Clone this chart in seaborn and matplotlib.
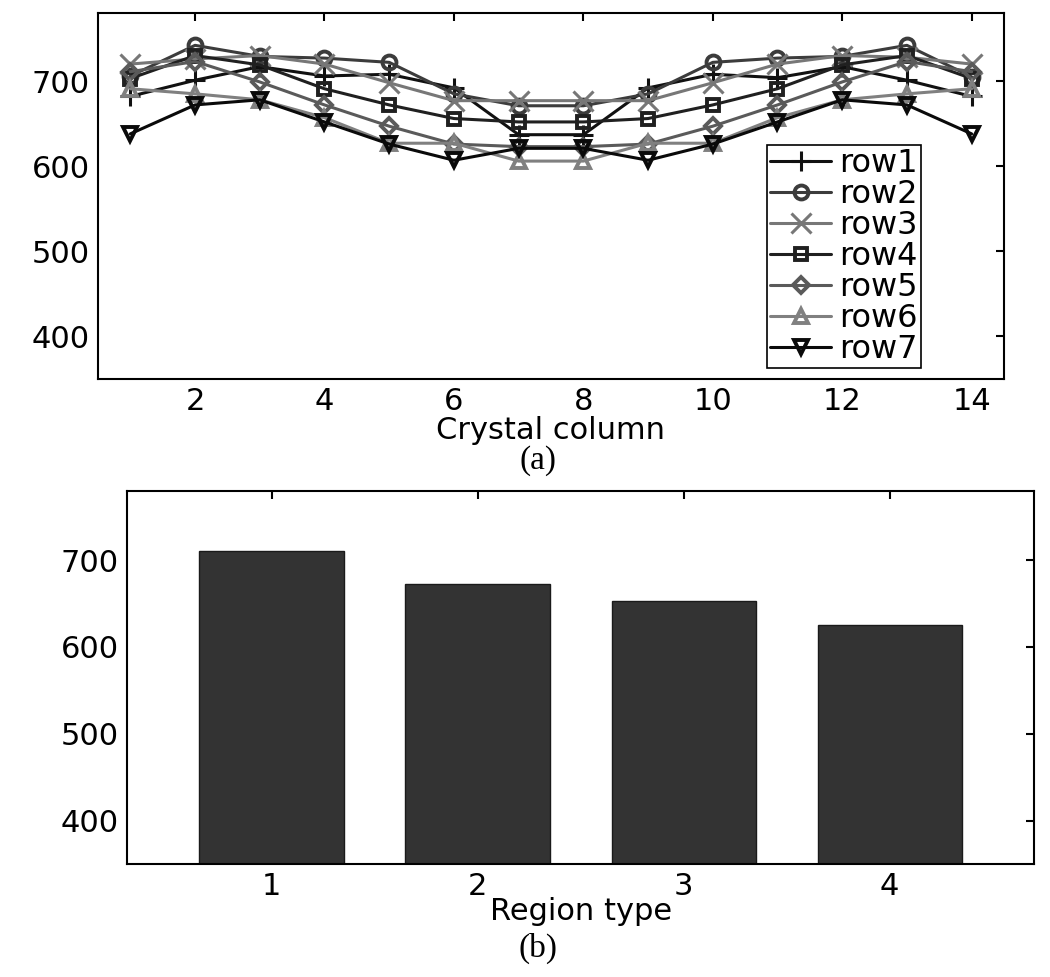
import pandas as pd
import matplotlib
matplotlib.use("Agg")
import matplotlib.pyplot as plt
import seaborn as sns

# (a) values per crystal column, one list per row
columns = list(range(1, 15))
row1 = [682, 701, 717, 706, 708, 692, 637, 637, 692, 708, 704, 717, 701, 682]
row2 = [706, 742, 729, 727, 722, 685, 671, 671, 685, 722, 727, 729, 742, 705]
row3 = [720, 726, 730, 720, 698, 677, 677, 677, 677, 698, 720, 730, 728, 720]
row4 = [703, 730, 719, 691, 672, 656, 652, 652, 656, 672, 691, 719, 730, 703]
row5 = [711, 723, 699, 672, 647, 626, 623, 623, 626, 647, 672, 699, 723, 711]
row6 = [691, 685, 678, 657, 627, 627, 606, 606, 627, 627, 657, 678, 685, 691]
row7 = [638, 672, 678, 652, 626, 607, 621, 621, 607, 626, 652, 678, 672, 638]
row_names = ["row1", "row2", "row3", "row4", "row5", "row6", "row7"]

# (b) mean per region type
regions = ["1", "2", "3", "4"]
region_vals = [711, 673, 653, 625]

rows = [row1, row2, row3, row4, row5, row6, row7]
df = pd.DataFrame({
    "col": columns * len(rows),
    "val": sum(rows, []),
    "row": [n for n in row_names for _ in columns],
})
df_bar = pd.DataFrame({"region": regions, "val": region_vals})

sns.set_style("white")
plt.rcParams["font.family"] = ["DejaVu Sans"]
plt.rcParams["text.color"] = "black"
plt.rcParams["axes.labelcolor"] = "black"
plt.rcParams["axes.linewidth"] = 1.5

colors = ["#111111", "#3c3c3c", "#777777", "#202020", "#5a5a5a", "#808080", "#0a0a0a"]
markers = ["+", "o", "x", "s", "D", "^", "v"]
msizes = [14, 10, 14, 9, 8, 10, 10]

fig = plt.figure(figsize=(10.5, 9.77), dpi=100)
ax1 = fig.add_axes([0.0933, 0.6121, 0.8629, 0.3746])
ax2 = fig.add_axes([0.1212, 0.1157, 0.8635, 0.3821])

for name, c, m, ms in zip(row_names, colors, markers, msizes):
    filled = m not in ("+", "x")
    sns.lineplot(data=df[df["row"] == name], x="col", y="val", ax=ax1,
                 color=c, linewidth=2.2, marker=m, markersize=ms,
                 markeredgewidth=2.8 if filled else 2.2,
                 markeredgecolor=c, markerfacecolor="none" if filled else c,
                 label=name)

ax1.set_xlim(0.5, 14.5)
ax1.set_ylim(350, 780)
ax1.set_xticks(range(2, 15, 2))
ax1.set_yticks([400, 500, 600, 700])
ax1.set_xlabel("Crystal column", fontsize=22, labelpad=0)
ax1.set_ylabel("")
leg = ax1.legend(loc="lower right", bbox_to_anchor=(0.908, 0.03), borderaxespad=0,
                 fontsize=23, frameon=True, fancybox=False, framealpha=1,
                 edgecolor="black", handlelength=1.9, handletextpad=0.25,
                 labelspacing=0.0, borderpad=0.1)
leg.get_frame().set_linewidth(1.2)

sns.barplot(data=df_bar, x="region", y="val", ax=ax2, color="#333333",
            width=0.7, edgecolor="#1a1a1a", linewidth=1, saturation=1)
ax2.set_xlim(-0.7, 3.7)
ax2.set_ylim(350, 780)
ax2.set_yticks([400, 500, 600, 700])
ax2.set_xlabel("Region type", fontsize=22, labelpad=-3)
ax2.set_ylabel("")

for ax in (ax1, ax2):
    ax.tick_params(direction="in", top=True, right=True, length=6, width=1.5,
                   labelsize=22, pad=6, colors="black")
    for sp in ax.spines.values():
        sp.set_color("black")
        sp.set_linewidth(1.5)

fig.text(0.512, 0.529, "(a)", family="Liberation Serif", fontsize=24,
         ha="center", va="center")
fig.text(0.512, 0.029, "(b)", family="Liberation Serif", fontsize=24,
         ha="center", va="center")

fig.savefig("out.png", dpi=100, facecolor="white")
